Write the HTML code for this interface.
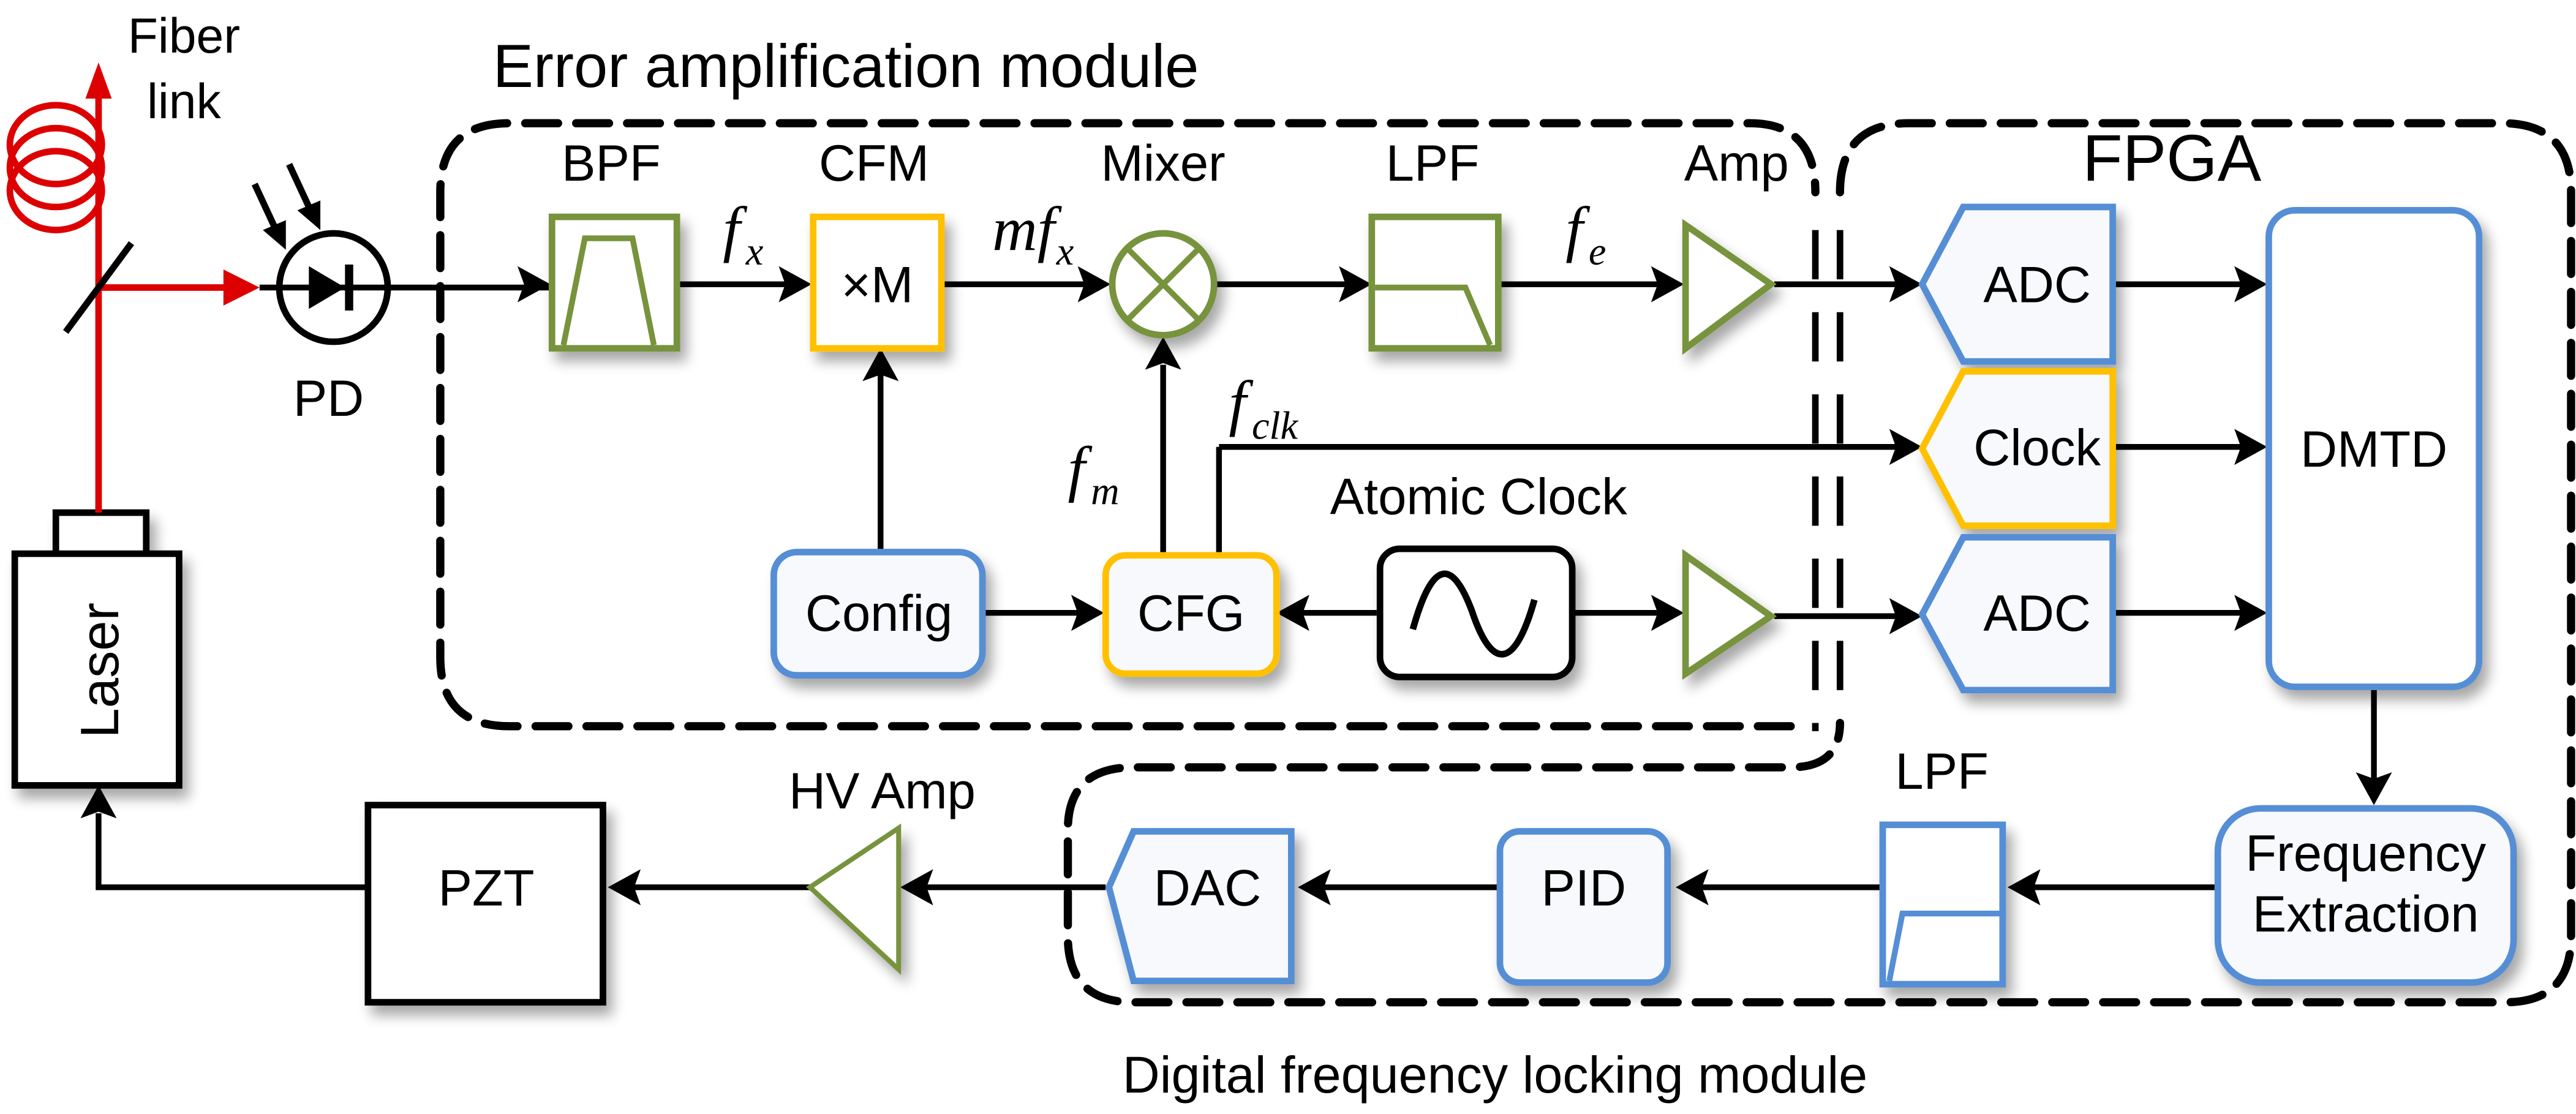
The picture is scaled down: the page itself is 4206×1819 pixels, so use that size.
<!DOCTYPE html>
<html><head><meta charset="utf-8">
<style>
html,body{margin:0;padding:0;background:#fff;}
svg{display:block;}
text{font-family:"Liberation Sans",Arial,sans-serif;fill:#000;}
.m{font-family:"Liberation Serif",serif;font-style:italic;}
</style></head>
<body>
<svg width="4206" height="1819" viewBox="0 0 1568 678" preserveAspectRatio="none" xmlns="http://www.w3.org/2000/svg">
<defs>
<filter id="sh" x="-20%" y="-20%" width="150%" height="150%">
<feGaussianBlur in="SourceAlpha" stdDeviation="4"/>
<feOffset dx="4" dy="6" result="b"/>
<feComponentTransfer><feFuncA type="linear" slope="0.35"/></feComponentTransfer>
<feMerge><feMergeNode/><feMergeNode in="SourceGraphic"/></feMerge>
</filter>
</defs>

<g fill="none" stroke="#000" stroke-width="5" stroke-dasharray="20 11" stroke-linecap="round">
<path d="M1090 442 L310 442 Q268 442 268 400 L268 117 Q268 75 310 75 L1065 75 Q1105 75 1105 117"/>
<path d="M1120 117 Q1120 75 1162 75 L1523 75 Q1565 75 1565 117 L1565 570 Q1565 610 1525 610 L690 610 Q650 610 650 570 L650 505 Q650 467 690 467 L1090 467 Q1120 467 1120 440"/>
</g>
<g stroke="#000" stroke-width="4" stroke-dasharray="30 20">
<line x1="1105" y1="140" x2="1105" y2="445"/>
<line x1="1120" y1="140" x2="1120" y2="445"/>
</g>

<text x="300" y="53" font-size="37">Error amplification module</text>
<text x="1322" y="110" font-size="40" text-anchor="middle">FPGA</text>
<text x="910" y="665" font-size="31.5" text-anchor="middle">Digital frequency locking module</text>
<text x="112" y="32" font-size="30" text-anchor="middle">Fiber</text>
<text x="112" y="72" font-size="30" text-anchor="middle">link</text>

<g fill="none" stroke="#d00" stroke-width="4">
<ellipse cx="34" cy="88" rx="28" ry="24"/>
<ellipse cx="34" cy="102" rx="28" ry="24"/>
<ellipse cx="34" cy="116" rx="28" ry="24"/>
<line x1="60" y1="310" x2="60" y2="55"/>
<line x1="60" y1="175" x2="140" y2="175"/>
</g>
<polygon points="60,38 52,60 68,60" fill="#d00"/>
<polygon points="158,175 136,164 136,186" fill="#d00"/>
<line x1="40" y1="202" x2="80" y2="148" stroke="#000" stroke-width="4"/>

<circle cx="203" cy="175" r="33" fill="#fff" stroke="#000" stroke-width="4"/>
<line x1="158" y1="175" x2="335" y2="175" stroke="#000" stroke-width="3.5"/>
<polygon points="188,162 188,188 210,175" fill="#000"/>
<rect x="210" y="161" width="5" height="28" fill="#000"/>
<g stroke="#000" stroke-width="4"><line x1="155" y1="112" x2="168" y2="140"/><line x1="176" y1="100" x2="189" y2="128"/></g>
<polygon points="174,152 160,140 174,134" fill="#000"/>
<polygon points="195,140 181,128 195,122" fill="#000"/>
<text x="200" y="253" font-size="31" text-anchor="middle">PD</text>

<g stroke="#000" stroke-width="3.5" fill="none">
<line x1="413" y1="173" x2="480" y2="173"/>
<line x1="574" y1="173" x2="660" y2="173"/>
<line x1="740" y1="173" x2="820" y2="173"/>
<line x1="913" y1="173" x2="1010" y2="173"/>
<line x1="1080" y1="173" x2="1155" y2="173"/>
<line x1="1287" y1="173" x2="1365" y2="173"/>
<line x1="742" y1="272" x2="1155" y2="272"/>
<line x1="742" y1="337" x2="742" y2="272"/>
<line x1="1287" y1="272" x2="1365" y2="272"/>
<line x1="1287" y1="373" x2="1365" y2="373"/>
<line x1="1080" y1="375" x2="1155" y2="375"/>
<line x1="958" y1="373" x2="1010" y2="373"/>
<line x1="790" y1="373" x2="838" y2="373"/>
<line x1="598" y1="373" x2="658" y2="373"/>
<line x1="536" y1="335" x2="536" y2="228"/>
<line x1="708" y1="337" x2="708" y2="222"/>
<line x1="1445" y1="418" x2="1445" y2="475"/>
<line x1="1348" y1="540" x2="1236" y2="540"/>
<line x1="1145" y1="540" x2="1034" y2="540"/>
<line x1="912" y1="540" x2="804" y2="540"/>
<line x1="673" y1="540" x2="562" y2="540"/>
<line x1="493" y1="540" x2="384" y2="540"/>
<polyline points="223,540 60,540 60,495"/>
</g>
<g fill="#000">
<polygon points="335,173 315,162 319,173 315,184"/>
<polygon points="494,173 474,162 478,173 474,184"/>
<polygon points="676,173 656,162 660,173 656,184"/>
<polygon points="835,173 815,162 819,173 815,184"/>
<polygon points="1025,173 1005,162 1009,173 1005,184"/>
<polygon points="1170,173 1150,162 1154,173 1150,184"/>
<polygon points="1380,173 1360,162 1364,173 1360,184"/>
<polygon points="1170,272 1150,261 1154,272 1150,283"/>
<polygon points="1380,272 1360,261 1364,272 1360,283"/>
<polygon points="1380,373 1360,362 1364,373 1360,384"/>
<polygon points="1170,375 1150,364 1154,375 1150,386"/>
<polygon points="1025,373 1005,362 1009,373 1005,384"/>
<polygon points="672,373 652,362 656,373 652,384"/>
<polygon points="777,373 797,362 793,373 797,384"/>
<polygon points="536,212 525,232 536,228 547,232"/>
<polygon points="708,205 697,225 708,221 719,225"/>
<polygon points="1445,490 1434,470 1445,474 1456,470"/>
<polygon points="1222,540 1242,529 1238,540 1242,551"/>
<polygon points="1020,540 1040,529 1036,540 1040,551"/>
<polygon points="790,540 810,529 806,540 810,551"/>
<polygon points="548,540 568,529 564,540 568,551"/>
<polygon points="370,540 390,529 386,540 390,551"/>
<polygon points="60,478 49,498 60,494 71,498"/>
</g>

<text class="m" x="440" y="152" font-size="38">f</text><text class="m" x="454" y="161" font-size="24">x</text>
<text class="m" x="604" y="152" font-size="38">mf</text><text class="m" x="643" y="161" font-size="24">x</text>
<text class="m" x="953" y="152" font-size="38">f</text><text class="m" x="967" y="161" font-size="24">e</text>
<text class="m" x="650" y="298" font-size="38">f</text><text class="m" x="664" y="307" font-size="24">m</text>
<text class="m" x="748" y="258" font-size="38">f</text><text class="m" x="762" y="267" font-size="24">clk</text>

<g filter="url(#sh)">
<rect x="336" y="132" width="76" height="80" fill="#fff" stroke="#77933C" stroke-width="4"/>
<rect x="495" y="132" width="78" height="80" fill="#fff" stroke="#FFC000" stroke-width="4"/>
<circle cx="708" cy="173" r="31" fill="#fff" stroke="#77933C" stroke-width="4"/>
<rect x="835" y="132" width="77" height="80" fill="#fff" stroke="#77933C" stroke-width="4"/>
<polygon points="1026,137 1026,212 1078,173" fill="#fff" stroke="#77933C" stroke-width="4"/>
<polygon points="1026,338 1026,410 1078,375" fill="#fff" stroke="#77933C" stroke-width="4"/>
<polygon points="493,540 547,504 547,590" fill="#fff" stroke="#77933C" stroke-width="3"/>
<polygon points="1195,126 1286,126 1286,220 1195,220 1170,173" fill="#F7F9FC" stroke="#558ED5" stroke-width="4"/>
<polygon points="1195,226 1286,226 1286,320 1195,320 1170,273" fill="#F7F9FC" stroke="#FFC000" stroke-width="4"/>
<polygon points="1195,327 1286,327 1286,420 1195,420 1170,374" fill="#F7F9FC" stroke="#558ED5" stroke-width="4"/>
<rect x="1381" y="128" width="128" height="290" rx="16" fill="#fff" stroke="#558ED5" stroke-width="4"/>
<rect x="1350" y="492" width="180" height="106" rx="26" fill="#F7F9FC" stroke="#558ED5" stroke-width="4"/>
<rect x="1146" y="502" width="73" height="97" fill="#fff" stroke="#558ED5" stroke-width="4"/>
<rect x="913" y="506" width="102" height="92" rx="12" fill="#F7F9FC" stroke="#558ED5" stroke-width="4"/>
<polygon points="690,506 786,506 786,597 690,597 675,540" fill="#F7F9FC" stroke="#558ED5" stroke-width="4"/>
<rect x="471" y="336" width="127" height="75" rx="14" fill="#F7F9FC" stroke="#558ED5" stroke-width="4"/>
<rect x="673" y="338" width="104" height="72" rx="12" fill="#F7F9FC" stroke="#FFC000" stroke-width="4"/>
<rect x="840" y="334" width="117" height="78" rx="12" fill="#fff" stroke="#000" stroke-width="4"/>
<rect x="224" y="490" width="143" height="120" fill="#fff" stroke="#000" stroke-width="4"/>
<rect x="9" y="337" width="100" height="141" fill="#fff" stroke="#000" stroke-width="4"/>
<rect x="34" y="312" width="55" height="25" fill="#fff" stroke="#000" stroke-width="4"/>
</g>
<line x1="60" y1="310" x2="60" y2="312" stroke="#d00" stroke-width="4"/>

<polyline points="343,210 356,145 385,145 398,210" fill="none" stroke="#77933C" stroke-width="3.5"/>
<polyline points="837,175 892,175 907,210" fill="none" stroke="#77933C" stroke-width="3.5"/>
<g stroke="#77933C" stroke-width="3.5"><line x1="686" y1="151" x2="730" y2="195"/><line x1="730" y1="151" x2="686" y2="195"/></g>
<polyline points="1150,597 1158,556 1217,556" fill="none" stroke="#558ED5" stroke-width="3.5"/>
<path d="M860 383 C872 340 884 340 896 372 C908 408 922 408 934 365" fill="none" stroke="#000" stroke-width="4"/>

<g font-size="31" text-anchor="middle">
<text x="372" y="110">BPF</text>
<text x="532" y="110">CFM</text>
<text x="708" y="110">Mixer</text>
<text x="872" y="110">LPF</text>
<text x="1057" y="110">Amp</text>
<text x="534" y="184">×M</text>
<text x="1240" y="184">ADC</text>
<text x="1240" y="283">Clock</text>
<text x="1240" y="384">ADC</text>
<text x="1445" y="284">DMTD</text>
<text x="1440" y="530">Frequency</text>
<text x="1440" y="567">Extraction</text>
<text x="1182" y="480">LPF</text>
<text x="964" y="551">PID</text>
<text x="735" y="551">DAC</text>
<text x="537" y="492">HV Amp</text>
<text x="296" y="551">PZT</text>
<text x="535" y="384">Config</text>
<text x="725" y="384">CFG</text>
<text x="900" y="313">Atomic Clock</text>
<text transform="translate(72,408) rotate(-90)" font-size="33">Laser</text>
</g>
</svg>
</body></html>
